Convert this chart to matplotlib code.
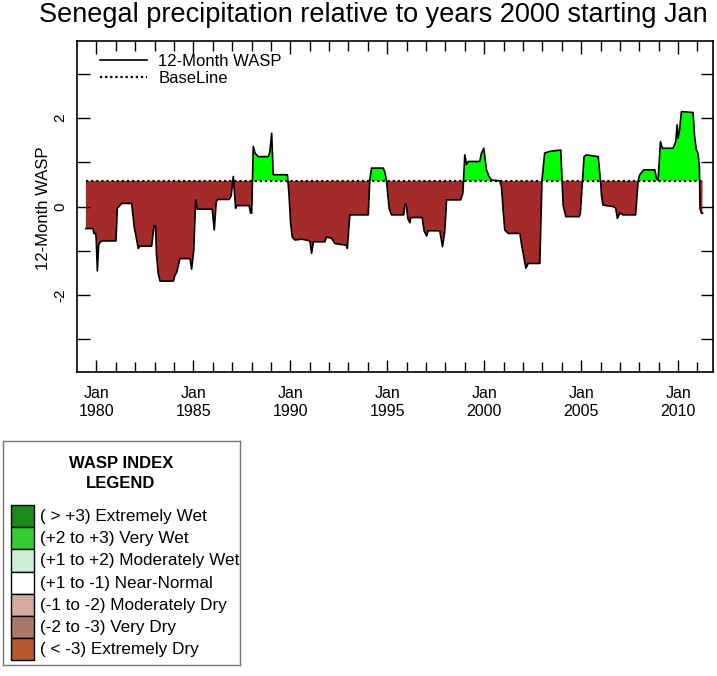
import matplotlib
matplotlib.use("Agg")
import matplotlib.pyplot as plt
from matplotlib.lines import Line2D
from matplotlib.patches import Rectangle
import numpy as np

plt.rcParams['font.family'] = ['Liberation Sans', 'DejaVu Sans']

# 12-month WASP index (decimal years, index value)
years = [1979.46, 1979.83, 1979.87, 1979.96, 1979.99, 1980.05, 1980.12, 1980.27, 1981.01, 1981.08,
         1981.22, 1981.30, 1981.82, 1981.95, 1982.16, 1982.25, 1982.85, 1982.97, 1983.05, 1983.10,
         1983.19, 1983.28, 1983.97, 1984.05, 1984.14, 1984.31, 1984.83, 1984.91, 1985.02, 1985.12,
         1985.20, 1985.97, 1986.08, 1986.18, 1986.25, 1986.85, 1986.95, 1987.06, 1987.18, 1987.25,
         1987.88, 1987.95, 1988.01, 1988.09, 1988.18, 1988.35, 1988.87, 1988.95, 1989.04, 1989.12,
         1989.85, 1989.93, 1990.02, 1990.10, 1990.24, 1990.60, 1991.01, 1991.10, 1991.19, 1991.78,
         1991.87, 1992.13, 1992.30, 1992.90, 1992.94, 1993.07, 1994.02, 1994.10, 1994.19, 1994.79,
         1994.88, 1994.96, 1995.10, 1995.22, 1995.85, 1995.91, 1995.98, 1996.06, 1996.17, 1996.22,
         1996.80, 1996.90, 1997.03, 1997.11, 1997.71, 1997.85, 1997.97, 1998.06, 1998.78, 1998.90,
         1999.00, 1999.09, 1999.18, 1999.77, 1999.86, 1999.98, 2000.12, 2000.25, 2000.38, 2000.80,
         2000.89, 2000.98, 2001.06, 2001.24, 2001.84, 2001.92, 2002.01, 2002.15, 2002.27, 2002.87,
         2002.98, 2003.12, 2003.38, 2003.95, 2004.07, 2004.21, 2004.90, 2004.96, 2005.07, 2005.15,
         2005.27, 2005.88, 2006.00, 2006.05, 2006.13, 2006.65, 2006.78, 2006.87, 2006.99, 2007.16,
         2007.81, 2007.94, 2008.02, 2008.23, 2008.80, 2008.88, 2008.97, 2009.09, 2009.19, 2009.74,
         2009.88, 2009.95, 2010.00, 2010.08, 2010.17, 2010.77, 2010.85, 2010.94, 2011.03, 2011.10,
         2011.13, 2011.20, 2011.26]
wasp = [-0.50, -0.50, -0.61, -0.61, -0.72, -1.46, -0.85, -0.78, -0.78, -0.04,
        0.03, 0.07, 0.07, -0.46, -0.95, -0.90, -0.90, -0.44, -0.44, -1.10,
        -1.52, -1.69, -1.69, -1.56, -1.50, -1.18, -1.18, -1.42, -1.00, 0.15,
        -0.06, -0.06, -0.53, 0.10, 0.16, 0.16, 0.24, 0.68, -0.04, 0.02,
        0.02, -0.15, -0.15, 1.36, 1.21, 1.13, 1.13, 1.25, 1.66, 0.72,
        0.72, 0.30, -0.40, -0.69, -0.76, -0.74, -0.78, -1.06, -0.80, -0.80,
        -0.69, -0.72, -0.84, -0.88, -0.95, -0.19, -0.19, 0.60, 0.87, 0.87,
        0.78, 0.58, -0.05, -0.19, -0.19, 0.05, 0.05, -0.27, -0.37, -0.25,
        -0.25, -0.55, -0.67, -0.55, -0.55, -0.91, -0.55, 0.15, 0.15, 0.30,
        1.17, 0.95, 1.02, 1.02, 1.21, 1.32, 0.83, 0.68, 0.60, 0.58,
        0.45, -0.10, -0.53, -0.61, -0.61, -0.84, -1.06, -1.40, -1.29, -1.29,
        0.60, 1.21, 1.25, 1.28, 0.03, -0.23, -0.23, -0.15, 0.60, 1.13,
        1.17, 1.13, 0.58, 0.25, 0.03, 0.00, -0.04, -0.27, -0.15, -0.19,
        -0.19, 0.58, 0.72, 0.83, 0.83, 0.65, 0.60, 1.47, 1.32, 1.32,
        1.47, 1.85, 1.55, 1.75, 2.15, 2.13, 1.60, 1.28, 1.20, 0.90,
        -0.04, -0.15, -0.15]
baseline = 0.58

label_years = [1980, 1985, 1990, 1995, 2000, 2005, 2010]
tick_labels = ["Jan\n%d" % y for y in label_years]

legend_labels = ["( > +3) Extremely Wet", "(+2 to +3) Very Wet", "(+1 to +2) Moderately Wet",
                 "(+1 to -1) Near-Normal", "(-1 to -2) Moderately Dry", "(-2 to -3) Very Dry",
                 "( < -3) Extremely Dry"]
legend_colors = ["#1b8a1b", "#33cc33", "#ccf0d4", "#ffffff", "#d6aa9c", "#a8786a", "#b3592d"]

W, H = 717, 676
fig = plt.figure(figsize=(W / 100, H / 100), dpi=100)
ax = fig.add_axes([77 / W, 1 - 372 / H, 636 / W, 331 / H])

x = np.array(years)
y = np.array(wasp)
ax.fill_between(x, y, baseline, where=y >= baseline, interpolate=True, color="#00ff00", lw=0)
ax.fill_between(x, y, baseline, where=y <= baseline, interpolate=True, color="#a52a2a", lw=0)
ax.plot(x, y, color="black", lw=1.2)
ax.plot([x[0], x[-1]], [baseline, baseline], color="black", lw=1.6, linestyle=(0, (1, 1.3)))

ax.set_xlim(1979.0, 2011.8)
ax.set_ylim(-3.75, 3.75)
ax.set_xticks(label_years)
ax.set_xticklabels(tick_labels, fontsize=11.5, linespacing=1.25)
ax.set_xticks(np.arange(1980, 2012), minor=True)
ax.set_yticks([-3, -2, -1, 0, 1, 2, 3])
ax.set_yticklabels(["", "-2", "", "0", "", "2", ""], rotation=90, va="center", fontsize=11)
ax.tick_params(which="both", direction="in", top=True, right=True, width=1)
ax.tick_params(axis="x", which="major", length=9, pad=10)
ax.tick_params(axis="x", which="minor", length=7)
ax.tick_params(axis="y", length=9, pad=7)
for s in ax.spines.values():
    s.set_linewidth(1.2)

fig.text(43 / W, 1 - 208 / H, "12-Month WASP", rotation=90, ha="center", va="center", fontsize=12)
fig.text(373 / W, 1 - 15 / H, "Senegal precipitation relative to years 2000 starting Jan",
         ha="center", va="center", fontsize=19.5)

handles = [Line2D([], [], color="black", lw=1.2),
           Line2D([], [], color="black", lw=1.6, linestyle=(0, (1, 1.3)))]
ax.legend(handles, ["12-Month WASP", "BaseLine"], loc="upper left", bbox_to_anchor=(0.036, 0.962),
          frameon=False, fontsize=12, borderpad=0, borderaxespad=0, handlelength=2.8,
          handletextpad=0.7, labelspacing=0.15)

# WASP index legend box
lax = fig.add_axes([3 / W, 1 - 665 / H, 237 / W, 224 / H])
lax.set_xlim(0, 237)
lax.set_ylim(224, 0)
lax.set_xticks([])
lax.set_yticks([])
for s in lax.spines.values():
    s.set_color("#777777")
    s.set_linewidth(1)
lax.text(118, 22, "WASP INDEX", ha="center", va="center", fontsize=12, fontweight="bold")
lax.text(118, 43, "LEGEND", ha="center", va="center", fontsize=12, fontweight="bold")
for i, (lab, col) in enumerate(zip(legend_labels, legend_colors)):
    top = 64 + i * 22.2
    lax.add_patch(Rectangle((8, top), 23, 22.2, facecolor=col, edgecolor="black", lw=1))
    lax.text(37, top + 11.5, lab, ha="left", va="center", fontsize=12.3)

fig.savefig("out.png", dpi=100)
